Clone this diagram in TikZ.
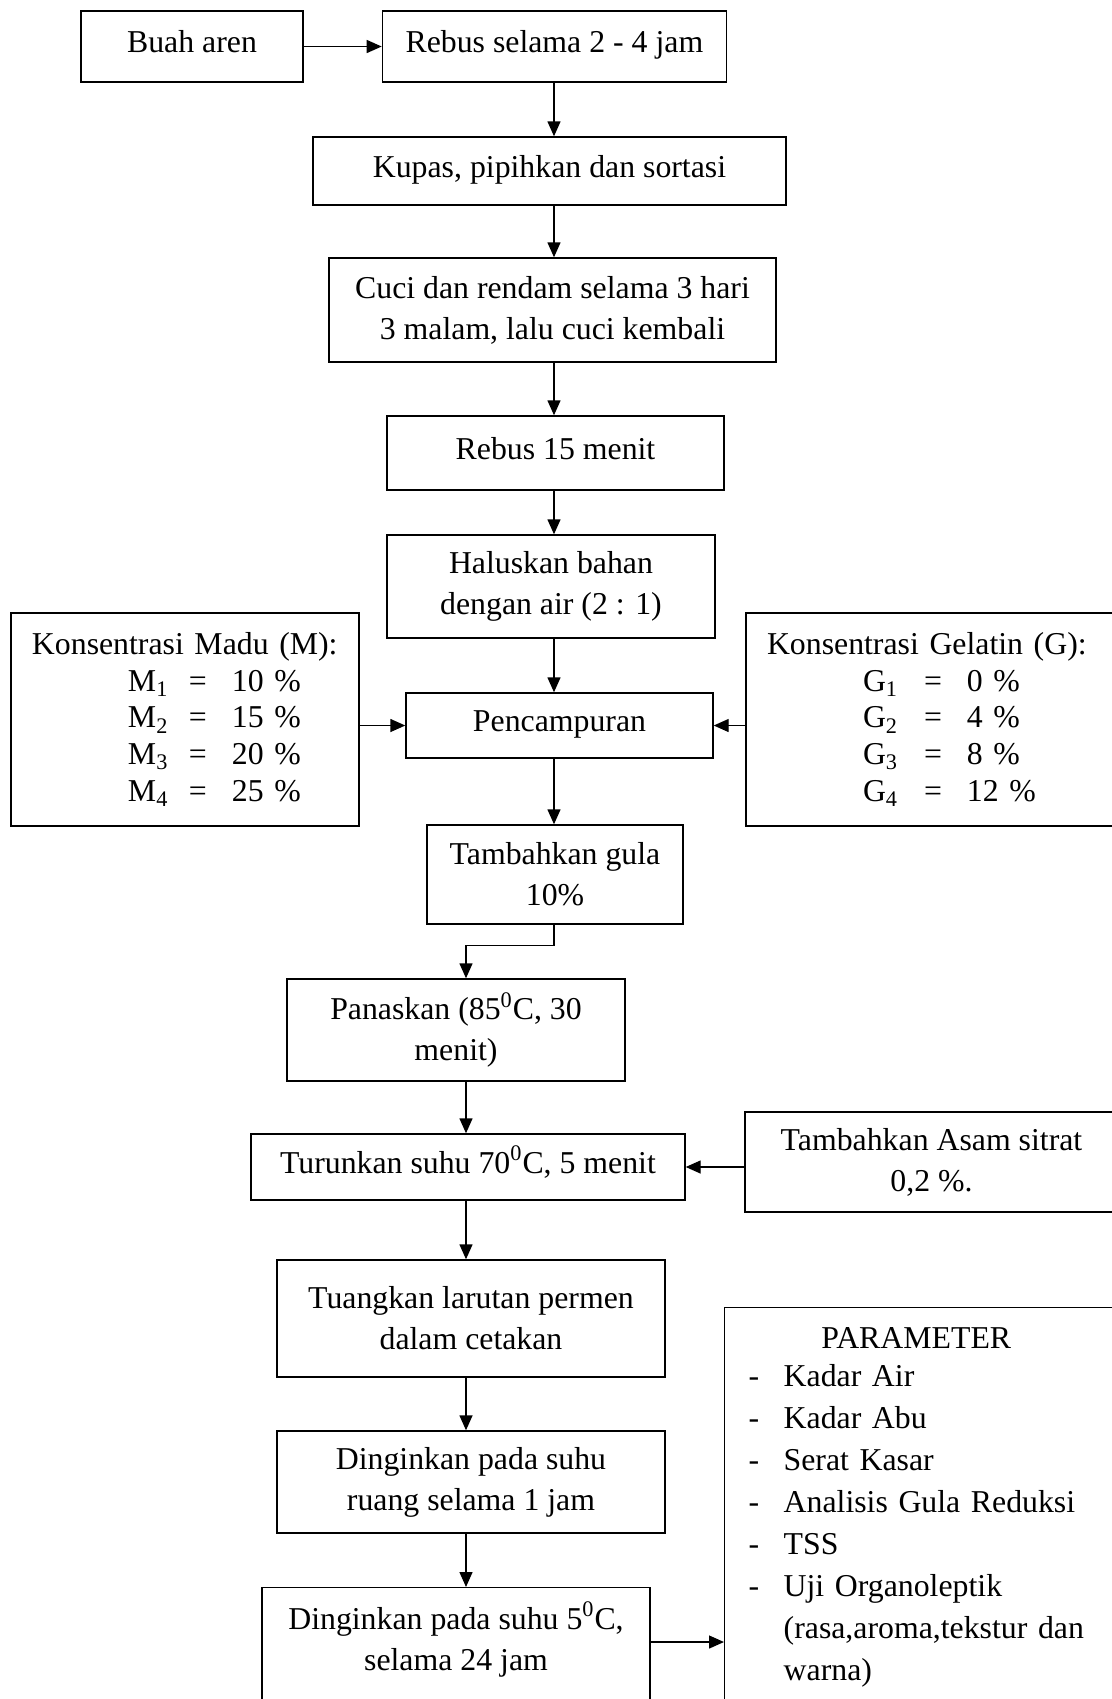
\documentclass[tikz,border=0pt]{standalone}
\usepackage{fontspec}
\setmainfont{Liberation Serif}
\usepackage{tikz}
\usetikzlibrary{positioning,arrows.meta}

\newcommand{\konsrow}[3]{\hspace*{48pt}\makebox[30.5pt][l]{#1\textsubscript{#2}}\makebox[21.5pt][l]{=}#3}

\begin{document}
\begin{tikzpicture}[->, >={Triangle[length=7.5pt,width=6.5pt]}, x=0.5pt, y=-0.5pt, line width=0.7pt,
		font=\fontsize{15.9}{20.5}\selectfont,
		box/.style={draw, rectangle, align=center, inner sep=0pt},
		onebox/.style={box, text height=11.1pt, text depth=4.8pt},
		listbox/.style={draw, rectangle, align=left, inner xsep=10.5pt, inner ysep=0pt, font=\fontsize{15.9}{18.4}\selectfont}]
		\useasboundingbox (0,0) rectangle (1112,1699);
		\coordinate (up) at (554,0);
		\coordinate (low) at (466,0);

		\node[onebox, minimum width=111pt, minimum height=35.5pt] (buah) at (192,46.5) {Buah aren};
		\node[onebox, minimum width=172pt, minimum height=35.5pt] (rebus1) [right=39pt of buah] {Rebus selama 2 - 4 jam};
		\node[onebox, minimum width=236.5pt, minimum height=34pt] (kupas) at (549.5,171) {Kupas, pipihkan dan sortasi};
		\node[box, minimum width=223.5pt, minimum height=52pt] (cuci) at (552.5,310) {Cuci dan rendam selama 3 hari\\ 3 malam, lalu cuci kembali};
		\node[onebox, minimum width=168.5pt, minimum height=37pt] (rebus2) at (555.5,453) {Rebus 15 menit};
		\node[box, minimum width=164pt, minimum height=51.5pt] (halus) at (551,586.5) {Haluskan bahan\\ dengan air (2 : 1)};
		\node[onebox, minimum width=153.5pt, minimum height=32.5pt] (campur) at (559.5,725.5) {Pencampuran};
		\node[listbox, text width=153pt, minimum height=106.5pt] (madu) at (185,719.5) {Konsentrasi Madu (M):\\
			\konsrow{M}{1}{10 \%}\\ \konsrow{M}{2}{15 \%}\\ \konsrow{M}{3}{20 \%}\\ \konsrow{M}{4}{25 \%}};
		\node[listbox, text width=165pt, minimum height=106.5pt] (gelatin) at (932,719.5) {Konsentrasi Gelatin (G):\\
			\konsrow{G}{1}{0 \%}\\ \konsrow{G}{2}{4 \%}\\ \konsrow{G}{3}{8 \%}\\ \konsrow{G}{4}{12 \%}};
		\node[box, minimum width=128pt, minimum height=49.5pt] (gula) at (555,874.5) {Tambahkan gula\\ 10\%};
		\node[box, minimum width=169pt, minimum height=51pt] (panas) at (456,1030) {Panaskan (85\textsuperscript{0}C, 30\\ menit)};
		\node[onebox, minimum width=217pt, minimum height=33pt] (turun) at (468,1167) {Turunkan suhu 70\textsuperscript{0}C, 5 menit};
		\node[box, minimum width=186.5pt, minimum height=50pt] (asam) at (931.5,1162) {Tambahkan Asam sitrat\\ 0,2 \%.};
		\node[box, minimum width=194pt, minimum height=58.5pt] (tuang) at (471,1318.5) {Tuangkan larutan permen\\ dalam cetakan};
		\node[box, minimum width=194pt, minimum height=51pt] (dingin1) at (471,1482) {Dinginkan pada suhu\\ ruang selama 1 jam};
		\node[box, minimum width=194pt, inner ysep=7pt, anchor=north] (dingin2) at (456,1587) {Dinginkan pada suhu 5\textsuperscript{0}C,\\ selama 24 jam\\ \strut};
		\node[draw, rectangle, anchor=north west, text width=174pt, inner xsep=12pt, inner ysep=5.8pt, align=left,
			font=\fontsize{15.9}{21}\selectfont] (param) at (724,1307) {\noindent\begin{tabular}{@{}p{17.5pt}@{}l@{}}
				\multicolumn{2}{c}{PARAMETER}\\[-2pt]
				- & Kadar Air\\
				- & Kadar Abu\\
				- & Serat Kasar\\
				- & Analisis Gula Reduksi\\
				- & TSS\\
				- & Uji Organoleptik\\
				& (rasa,aroma,tekstur dan\\
				& warna)\\
				&
			\end{tabular}};
		\coordinate (d2out) at ([yshift=-27.5pt]dingin2.north east);

		\path
		(buah) edge (rebus1)
		(rebus1.south -| up) edge (kupas.north -| up)
		(kupas.south -| up) edge (cuci.north -| up)
		(cuci.south -| up) edge (rebus2.north -| up)
		(rebus2.south -| up) edge (halus.north -| up)
		(halus.south -| up) edge (campur.north -| up)
		(campur.south -| up) edge (gula.north -| up)
		(madu.east |- campur.west) edge (campur.west)
		(gelatin.west |- campur.east) edge (campur.east)
		(panas.south -| low) edge (turun.north -| low)
		(asam.west |- turun.east) edge (turun.east)
		(turun.south -| low) edge (tuang.north -| low)
		(tuang.south -| low) edge (dingin1.north -| low)
		(dingin1.south -| low) edge (dingin2.north -| low)
		(d2out) edge (d2out -| param.west);
		\draw (gula.south -| up) -- ++(0,21) -| (panas.north -| low);
	\end{tikzpicture}
\end{document}
